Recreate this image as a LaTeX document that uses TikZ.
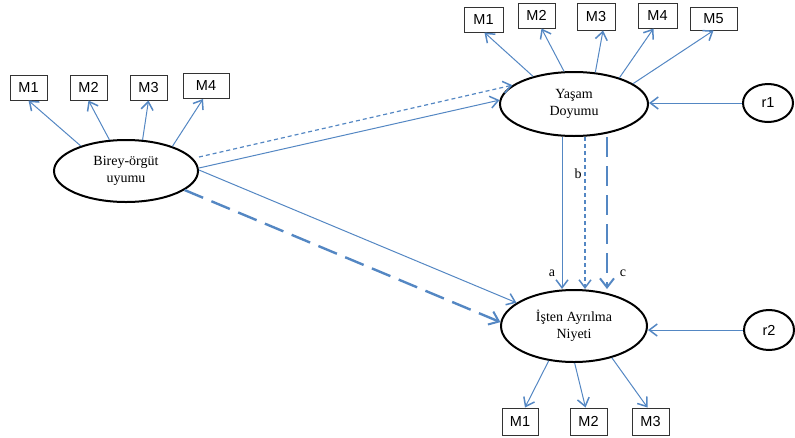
\documentclass[tikz,border=0pt]{standalone}
\usepackage{fontspec}
\setmainfont{Liberation Serif}
\newfontfamily\boxfont{Liberation Sans}
\usetikzlibrary{arrows.meta,shapes.geometric}
\definecolor{semblue}{RGB}{84,135,195}
\tikzset{
  latent/.style={ellipse,draw=black,line width=2pt,inner sep=0pt,align=center,
     font=\fontsize{14}{17}\selectfont},
  resid/.style={ellipse,draw=black,line width=2pt,inner sep=0pt,
     font=\boxfont\fontsize{14.5}{16}\selectfont},
  obs/.style={rectangle,draw=black!80,line width=1pt,inner sep=0pt,
     minimum height=25pt,font=\boxfont\fontsize{14.5}{16}\selectfont},
  conn/.style={draw=semblue,line width=1pt,-{Straight Barb[length=8pt,width=12pt,line width=1.5pt]}},
  thindash/.style={conn,line width=1.2pt,dash pattern=on 4pt off 3pt},
  thickdash/.style={draw=semblue,line width=2.4pt,dash pattern=on 20pt off 9pt,
     -{Straight Barb[length=9pt,width=14pt,line width=2pt]}},
  lbl/.style={inner sep=0pt,font=\fontsize{14}{17}\selectfont}
}
\begin{document}
\begin{tikzpicture}[x=1pt,y=-1pt]
\useasboundingbox (0,0) rectangle (795,437);
% latent variables
\node[latent,minimum width=144pt,minimum height=62pt] (birey) at (126,171) {Birey-örgüt\\uyumu};
\node[latent,minimum width=148pt,minimum height=64pt] (yasam) at (574,104) {Yaşam\\Doyumu};
\node[latent,minimum width=146pt,minimum height=72pt] (isten) at (574,326) {İşten Ayrılma\\Niyeti};
\node[resid,minimum width=50pt,minimum height=38pt] (r1) at (768,103) {r1};
\node[resid,minimum width=50pt,minimum height=40pt] (r2) at (769,330) {r2};
% left indicators
\node[obs,minimum width=37pt] (lm1) at (28.5,87.5) {M1};
\node[obs,minimum width=37pt] (lm2) at (88.5,87.5) {M2};
\node[obs,minimum width=37pt] (lm3) at (148.5,87.5) {M3};
\node[obs,minimum width=46pt] (lm4) at (206,86) {M4};
% top indicators
\node[obs,minimum width=39pt] (tm1) at (483.5,19.5) {M1};
\node[obs,minimum width=37pt] (tm2) at (536.5,15.5) {M2};
\node[obs,minimum width=38pt,minimum height=27pt] (tm3) at (596,16.5) {M3};
\node[obs,minimum width=39pt] (tm4) at (657.5,15.5) {M4};
\node[obs,minimum width=47pt,minimum height=23pt] (tm5) at (713.5,18.5) {M5};
% bottom indicators
\node[obs,minimum width=36pt,minimum height=27pt] (bm1) at (520,421.5) {M1};
\node[obs,minimum width=37pt,minimum height=27pt] (bm2) at (588.5,421.5) {M2};
\node[obs,minimum width=37pt,minimum height=27pt] (bm3) at (650.5,421.5) {M3};
% labels
\node[lbl] (la) at (552,273) {a};
\node[lbl] (lb) at (578,174) {b};
\node[lbl] (lc) at (623,273) {c};
% measurement arrows
\draw[conn] (birey.151) -- (lm1.south);
\draw[conn] (birey.118) -- (lm2.south);
\draw[conn] (birey.62) -- (lm3.south);
\draw[conn] (birey.28) -- ([xshift=-3pt]lm4.south);
\draw[conn] (yasam.146) -- ([xshift=1pt]tm1.south);
\draw[conn] (yasam.107) -- ([xshift=5pt]tm2.south);
\draw[conn] (yasam.56) -- ([xshift=7pt]tm3.south);
\draw[conn] (yasam.30) -- ([xshift=-4pt]tm4.south);
\draw[conn] (yasam.19) -- (tm5.south);
\draw[conn] (isten.234) -- ([xshift=5pt]bm1.north);
\draw[conn] (isten.271) -- ([xshift=-3pt]bm2.north);
\draw[conn] (isten.320) -- ([xshift=-3pt]bm3.north);
% residuals
\draw[conn] (r1.west) -- (r1.west -| yasam.east);
\draw[conn] (r2.west) -- (r2.west -| isten.east);
% structural paths
\draw[thindash] ([yshift=14pt]birey.east) -- (yasam.163);
\draw[conn] ([yshift=3pt]birey.east) -- (yasam.177);
\draw[conn] ([yshift=1pt]birey.east) -- (isten.158);
\draw[thickdash] (birey.342) -- (isten.177);
\draw[conn] ([xshift=-12pt]yasam.south) -- ([xshift=-12pt]isten.north);
\draw[thindash] ([xshift=11pt]yasam.south) -- ([xshift=11pt]isten.north);
\draw[thickdash] ([xshift=33pt]yasam.south) -- ([xshift=33pt]isten.north);
\end{tikzpicture}
\end{document}
